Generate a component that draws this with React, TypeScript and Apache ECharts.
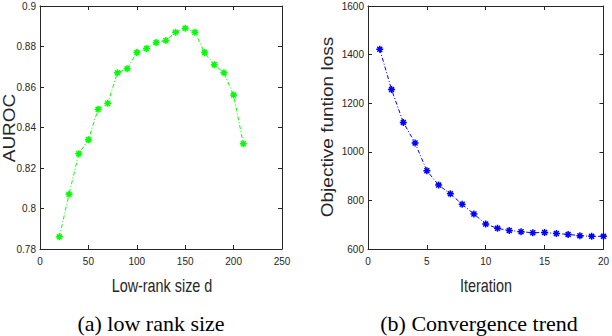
import React, { useEffect, useRef } from "react";
import * as echarts from "echarts";

const rankSizes = [20, 30, 40, 50, 60, 70, 80, 90, 100, 110, 120, 130, 140, 150, 160, 170, 180, 190, 200, 210];
const auroc = [0.786, 0.807, 0.827, 0.834, 0.849, 0.852, 0.867, 0.869, 0.877, 0.879, 0.882, 0.883, 0.887, 0.889, 0.887, 0.877, 0.871, 0.867, 0.856, 0.832];
const iterations = [1, 2, 3, 4, 5, 6, 7, 8, 9, 10, 11, 12, 13, 14, 15, 16, 17, 18, 19, 20];
const loss = [1422, 1256, 1121, 1036, 922, 863, 827, 784, 744, 703, 685, 676, 671, 667, 668, 664, 660, 655, 652, 652];

const leftXTitle = "Low-rank size d";
const leftYTitle = "AUROC";
const rightXTitle = "Iteration";
const rightYTitle = "Objective funtion loss";
const captionA = "(a) low rank size";
const captionB = "(b) Convergence trend";

const AX = "#262626";
const TICK_FONT = { fontFamily: "Liberation Sans", fontSize: 10, color: AX };
const ASTERISK = "path://M0,-10L0,10M-10,0L10,0M-7.07,-7.07L7.07,7.07M-7.07,7.07L7.07,-7.07";
const plain = (v: number) => String(parseFloat(v.toFixed(4)));

function mainX(gridIndex: number, min: number, max: number, interval: number) {
  return {
    type: "value",
    gridIndex,
    min,
    max,
    interval,
    position: "bottom",
    axisLine: { show: true, onZero: false, lineStyle: { color: AX, width: 1 } },
    axisTick: { show: true, inside: true, length: 4, lineStyle: { color: AX } },
    axisLabel: { ...TICK_FONT, margin: 7, formatter: plain },
    splitLine: { show: false },
  };
}
function boxX(gridIndex: number, min: number, max: number, interval: number) {
  return {
    type: "value",
    gridIndex,
    min,
    max,
    interval,
    position: "top",
    axisLine: { show: true, onZero: false, lineStyle: { color: AX, width: 1 } },
    axisTick: { show: true, inside: true, length: 4, lineStyle: { color: AX } },
    axisLabel: { show: false },
    splitLine: { show: false },
  };
}
function mainY(gridIndex: number, min: number, max: number, interval: number) {
  return {
    type: "value",
    gridIndex,
    min,
    max,
    interval,
    position: "left",
    axisLine: { show: true, onZero: false, lineStyle: { color: AX, width: 1 } },
    axisTick: { show: true, inside: true, length: 4, lineStyle: { color: AX } },
    axisLabel: { ...TICK_FONT, margin: 4, formatter: plain },
    splitLine: { show: false },
  };
}
function boxY(gridIndex: number, min: number, max: number, interval: number) {
  return {
    type: "value",
    gridIndex,
    min,
    max,
    interval,
    position: "right",
    axisLine: { show: true, onZero: false, lineStyle: { color: AX, width: 1 } },
    axisTick: { show: true, inside: true, length: 4, lineStyle: { color: AX } },
    axisLabel: { show: false },
    splitLine: { show: false },
  };
}

export default function App() {
  const ref = useRef<HTMLDivElement>(null);
  useEffect(() => {
    if (!ref.current) return;
    const chart = echarts.init(ref.current, undefined, { renderer: "svg" });
    const option = {
      animation: false,
      backgroundColor: "#ffffff",
      grid: [
        { left: 40, top: 6, width: 242, height: 243 },
        { left: 368, top: 6, width: 238, height: 243 },
      ],
      xAxis: [mainX(0, 0, 250, 50), boxX(0, 0, 250, 50), mainX(1, 0, 20, 5), boxX(1, 0, 20, 5)],
      yAxis: [mainY(0, 0.78, 0.9, 0.02), boxY(0, 0.78, 0.9, 0.02), mainY(1, 600, 1600, 200), boxY(1, 600, 1600, 200)],
      series: [
        {
          type: "line",
          xAxisIndex: 0,
          yAxisIndex: 0,
          data: rankSizes.map((d, i) => [d, auroc[i]]),
          symbol: ASTERISK,
          symbolSize: 7,
          lineStyle: { color: "#00ff00", width: 1, type: [4, 2, 1, 2] },
          itemStyle: { color: "#00ff00", borderColor: "#00ff00", borderWidth: 1.5 },
        },
        {
          type: "line",
          xAxisIndex: 2,
          yAxisIndex: 2,
          data: iterations.map((d, i) => [d, loss[i]]),
          symbol: ASTERISK,
          symbolSize: 7,
          lineStyle: { color: "#0000ff", width: 1, type: [4, 2, 1, 2] },
          itemStyle: { color: "#0000ff", borderColor: "#0000ff", borderWidth: 1.5 },
        },
      ],
      graphic: [
        {
          type: "text",
          x: 9,
          y: 128,
          rotation: Math.PI / 2,
          scaleY: 0.88,
          style: { text: leftYTitle, fontFamily: "Liberation Sans", fontSize: 19, fill: AX, align: "center", verticalAlign: "middle" },
        },
        {
          type: "text",
          x: 327,
          y: 127,
          rotation: Math.PI / 2,
          scaleY: 0.88,
          style: { text: rightYTitle, fontFamily: "Liberation Sans", fontSize: 19, fill: AX, align: "center", verticalAlign: "middle" },
        },
        {
          type: "text",
          x: 162,
          y: 285,
          scaleX: 0.8,
          style: { text: leftXTitle, fontFamily: "Liberation Sans", fontSize: 18, fill: AX, align: "center", verticalAlign: "middle" },
        },
        {
          type: "text",
          x: 486,
          y: 285,
          scaleX: 0.8,
          style: { text: rightXTitle, fontFamily: "Liberation Sans", fontSize: 18, fill: AX, align: "center", verticalAlign: "middle" },
        },
        {
          type: "text",
          x: 151,
          y: 323,
          style: { text: captionA, fontFamily: "Liberation Serif", fontSize: 22, fill: "#000000", align: "center", verticalAlign: "middle" },
        },
        {
          type: "text",
          x: 479,
          y: 323,
          style: { text: captionB, fontFamily: "Liberation Serif", fontSize: 22, fill: "#000000", align: "center", verticalAlign: "middle" },
        },
      ],
    };
    chart.setOption(option as any);
    return () => chart.dispose();
  }, []);
  return (
    <div
      ref={ref}
      style={{ position: "absolute", left: 0, top: 0, width: 612, height: 336, background: "#fff" }}
    />
  );
}
